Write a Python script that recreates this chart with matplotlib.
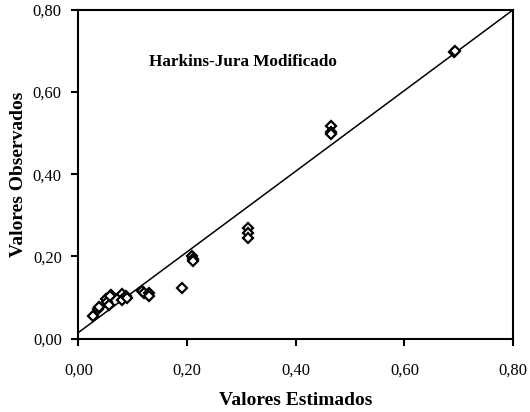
import matplotlib
matplotlib.use("Agg")
import matplotlib.pyplot as plt
import numpy as np

plt.rcParams['font.family'] = ['Liberation Serif', 'DejaVu Serif']

# Estimated vs observed values
estimados = [0.026, 0.036, 0.038, 0.050, 0.052, 0.056, 0.060, 0.058,
             0.081, 0.081, 0.088, 0.090, 0.117, 0.120, 0.129, 0.129,
             0.191, 0.209, 0.210, 0.210, 0.313, 0.313, 0.313,
             0.464, 0.464, 0.465, 0.692, 0.693]
observados = [0.054, 0.072, 0.078, 0.096, 0.090, 0.083, 0.107, 0.104,
              0.108, 0.095, 0.103, 0.100, 0.115, 0.112, 0.111, 0.103,
              0.123, 0.200, 0.194, 0.190, 0.269, 0.258, 0.244,
              0.517, 0.502, 0.498, 0.697, 0.700]

# Fitted line endpoints
linha_x = [0.0, 0.8]
linha_y = [0.015, 0.8]

ticks = [0.0, 0.2, 0.4, 0.6, 0.8]
tick_labels = ['0,00', '0,20', '0,40', '0,60', '0,80']

fig = plt.figure(figsize=(5.30, 4.12), dpi=100)
ax = fig.add_axes([0.148, 0.178, 0.820, 0.798])

ax.plot(linha_x, linha_y, color='black', linewidth=1.1, zorder=2)
ax.plot(estimados, observados, linestyle='none', marker='D', markersize=5.5,
        markerfacecolor='white', markeredgecolor='black', markeredgewidth=1.6,
        zorder=3)

ax.set_xlim(0, 0.8)
ax.set_ylim(0, 0.8)
ax.set_xticks(ticks)
ax.set_xticklabels(tick_labels)
ax.set_yticks(ticks)
ax.set_yticklabels(tick_labels)

for s in ax.spines.values():
    s.set_linewidth(1.5)

ax.tick_params(axis='x', direction='out', length=5, width=1.5, pad=12, labelsize=12)
ax.tick_params(axis='y', direction='out', length=5, width=1.5, pad=7, labelsize=12)

ax.set_xlabel('Valores Estimados', fontsize=14, fontweight='bold', labelpad=10)
ax.set_ylabel('Valores Observados', fontsize=14, fontweight='bold', labelpad=4.5)

ax.text(0.303, 0.674, 'Harkins-Jura Modificado', fontsize=12.3, fontweight='bold',
        ha='center', va='center')

fig.savefig('out.png', dpi=100)
